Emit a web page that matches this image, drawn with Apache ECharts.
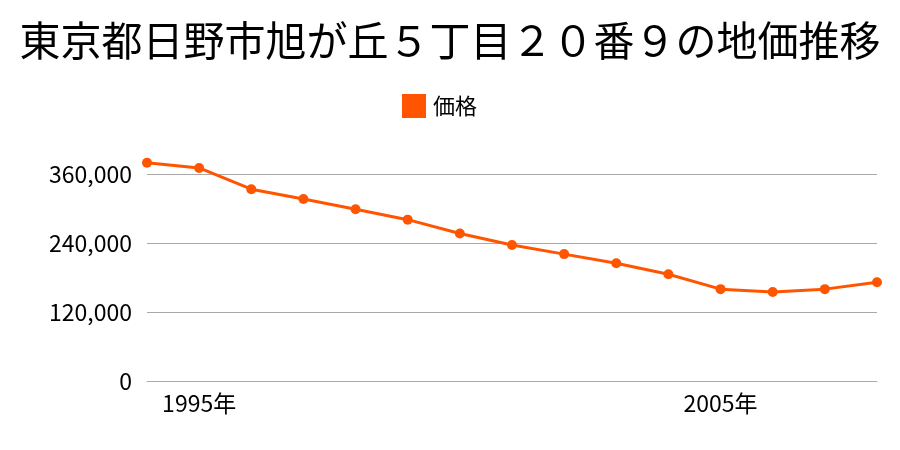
<!DOCTYPE html>
<html><head><meta charset="utf-8">
<script src="https://cdn.jsdelivr.net/npm/echarts@6/dist/echarts.min.js"></script>
<style>html,body{margin:0;padding:0;background:#fff}#c{width:900px;height:450px}</style>
</head><body><div id="c"></div>
<script>
var years = ['1994','1995','1996','1997','1998','1999','2000','2001','2002','2003','2004','2005','2006','2007','2008'];
var prices = [380000,371000,334000,317000,299000,281000,257000,237000,221000,205000,186000,160000,155000,160000,172000];
var yTicks = [0,120000,240000,360000];
var shownYears = ['1995','2005'];
var FONT = '"Noto Sans CJK JP","Noto Sans",sans-serif';
var chart = echarts.init(document.getElementById('c'));
chart.setOption({
  animation:false,
  backgroundColor:'#fff',
  title:{text:'東京都日野市旭が丘５丁目２０番９の地価推移',left:'center',top:15,
    textStyle:{fontFamily:FONT,fontSize:41,fontWeight:'normal',color:'#000'}},
  legend:{data:['価格'],left:397,top:89,icon:'rect',itemWidth:24,itemHeight:24,
    textStyle:{fontFamily:FONT,fontSize:22,color:'#000',padding:[0,0,0,2]}},
  grid:{left:147,right:23,top:174.3,bottom:69,containLabel:false},
  xAxis:{type:'category',data:years,boundaryGap:false,
    axisLine:{lineStyle:{color:'#aaa',width:1}},axisTick:{show:false},
    axisLabel:{interval:0,fontFamily:FONT,fontSize:23,color:'#000',margin:11,
      formatter:function(v){return shownYears.indexOf(v)>=0? v+'年':'';}},
    splitLine:{show:false}},
  yAxis:{type:'value',min:0,max:360000,interval:120000,
    axisLine:{show:false},axisTick:{show:false},
    axisLabel:{fontFamily:FONT,fontSize:23,color:'#000',margin:15,
      formatter:function(v){return yTicks.indexOf(v)>=0? v.toLocaleString('en-US'):'';}},
    splitLine:{lineStyle:{color:'#aaa',width:1}}},
  series:[{name:'価格',type:'line',data:prices,clip:false,
    symbol:'circle',symbolSize:10,
    itemStyle:{color:'#ff5500'},lineStyle:{color:'#ff5500',width:3}}]
});
</script></body></html>
